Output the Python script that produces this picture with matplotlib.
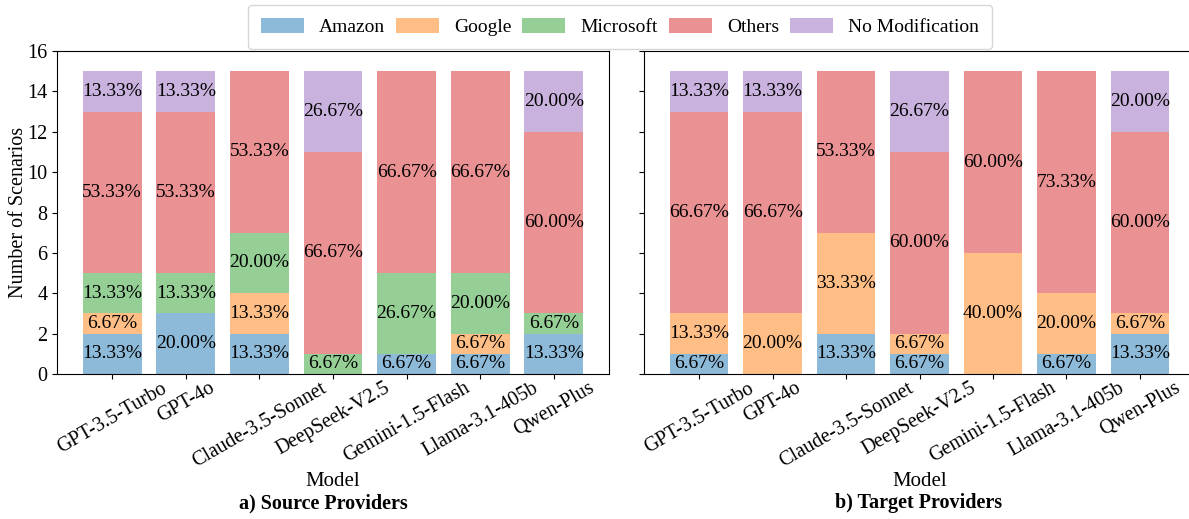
import matplotlib
matplotlib.use("Agg")
import matplotlib.pyplot as plt
import numpy as np

plt.rcParams['font.family'] = ['Liberation Serif', 'DejaVu Serif']
plt.rcParams['font.size'] = 14

models = ["GPT-3.5-Turbo", "GPT-4o", "Claude-3.5-Sonnet", "DeepSeek-V2.5",
          "Gemini-1.5-Flash", "Llama-3.1-405b", "Qwen-Plus"]
categories = ["Amazon", "Google", "Microsoft", "Others", "No Modification"]
total = 15

# Source providers (counts per model)
src_amazon = [2, 3, 2, 0, 1, 1, 2]
src_google = [1, 0, 2, 0, 0, 1, 0]
src_microsoft = [2, 2, 3, 1, 4, 3, 1]
src_others = [8, 8, 8, 10, 10, 10, 9]
src_nomod = [2, 2, 0, 4, 0, 0, 3]

# Target providers (counts per model)
tgt_amazon = [1, 0, 2, 1, 0, 1, 2]
tgt_google = [2, 3, 5, 1, 6, 3, 1]
tgt_microsoft = [0, 0, 0, 0, 0, 0, 0]
tgt_others = [10, 10, 8, 9, 9, 11, 9]
tgt_nomod = [2, 2, 0, 4, 0, 0, 3]

colors = ["tab:blue", "tab:orange", "tab:green", "tab:red", "tab:purple"]

fig = plt.figure(figsize=(11.89, 5.19), dpi=100)
ax1 = fig.add_axes([57/1189, 1-374/519, 552/1189, 323/519])
ax2 = fig.add_axes([644/1189, 1-374/519, 551/1189, 323/519], sharey=ax1)

def draw(ax, series):
    x = np.arange(len(models))
    bottom = np.zeros(len(models))
    handles = []
    for vals, c, name in zip(series, colors, categories):
        vals = np.array(vals, dtype=float)
        h = ax.bar(x, vals, 0.8, bottom=bottom, color=c, alpha=0.5, label=name)
        handles.append(h)
        for xi, v, b in zip(x, vals, bottom):
            if v > 0:
                ax.text(xi, b + v / 2, f"{v / total * 100:.2f}%", ha='center',
                        va='center', fontsize=14)
        bottom += vals
    ax.set_xticks(x)
    ax.set_xticklabels(models, rotation=30, ha='center')
    ax.set_xlim(-0.75, len(models) - 0.25)
    ax.set_ylim(0, 16)
    ax.set_yticks(range(0, 17, 2))
    ax.tick_params(labelsize=14.5)
    ax.tick_params(axis='x', pad=0)
    ax.set_xlabel("Model", fontsize=15)
    ax.xaxis.label.set_va('center')
    ax.xaxis.set_label_coords(0.5, (374 - 482) / 323)
    return handles

handles = draw(ax1, [src_amazon, src_google, src_microsoft, src_others, src_nomod])
draw(ax2, [tgt_amazon, tgt_google, tgt_microsoft, tgt_others, tgt_nomod])
ax1.set_ylabel("Number of Scenarios", fontsize=14.5)
ax1.yaxis.label.set_va('center')
ax1.yaxis.set_label_coords((19 - 57) / 552, 0.5)
plt.setp(ax2.get_yticklabels(), visible=False)

fig.text(323/1189, 1-503/519, "a) Source Providers", ha='center', va='center',
         fontsize=14.5, fontweight='bold')
fig.text(919/1189, 1-503/519, "b) Target Providers", ha='center', va='center',
         fontsize=14.5, fontweight='bold')

fig.legend(handles, categories, loc='upper center', bbox_to_anchor=(620/1189, 0.99),
           ncol=5, fontsize=14, frameon=True, columnspacing=0.55,
           handlelength=2.2, handleheight=0.8, handletextpad=0.8,
           borderpad=0.65, borderaxespad=0.0)

fig.savefig("out.png", dpi=100)
